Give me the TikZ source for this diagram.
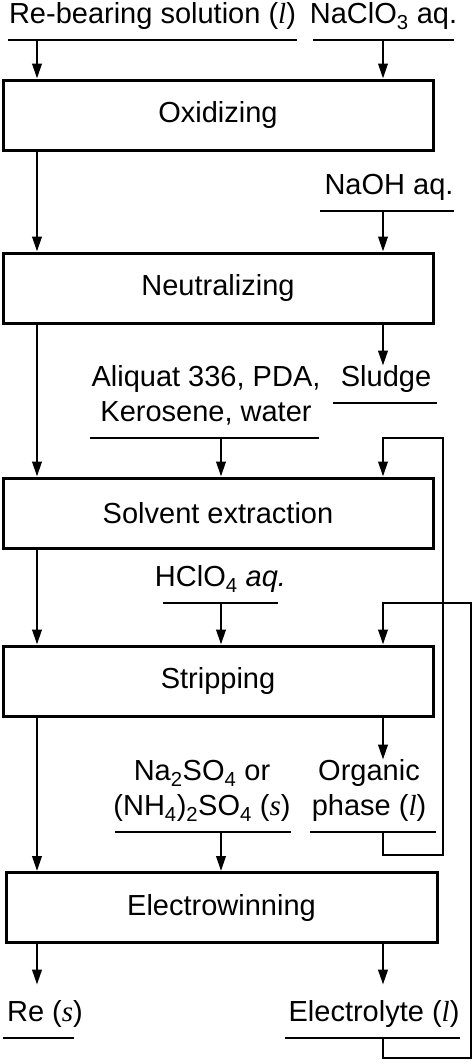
\documentclass[tikz,border=0pt]{standalone}
\usepackage{fontspec}
\setmainfont{Liberation Sans}
\newfontfamily\tnr{Liberation Serif}
\newcommand\phs[1]{{\tnr\itshape #1}}
\usetikzlibrary{arrows.meta,positioning}

\begin{document}
\begin{tikzpicture}[x=1pt,y=-1pt,
    font=\fontsize{29}{35}\selectfont,
    unit/.style={draw, line width=3pt, minimum width=430pt, minimum height=70pt, inner sep=0pt},
    feed/.style={anchor=south, inner sep=0pt, text depth=16pt, align=center},
    flow/.style={line width=2.3pt, -{Triangle[length=15pt,width=9.5pt]}},
    rule/.style={line width=2.5pt}]
\useasboundingbox (0,0) rectangle (474,1063);

% columns of the arrows
\coordinate (L) at (37,0);
\coordinate (M) at (221,0);
\coordinate (R) at (383,0);
\coordinate (loopA) at (443,438);
\coordinate (loopB) at (471,603);

% process steps
\node[unit] (ox)    at (218,115)   {Oxidizing};
\node[unit] (neut)  at (218,288)   {Neutralizing};
\node[unit] (sx)    at (218,513)   {Solvent extraction};
\node[unit] (strip) at (218,681)   {Stripping};
\node[unit, minimum width=431pt] (ew) at (221.5,907.5) {Electrowinning};

% feeds and products
\node[feed] (rebear) at (152.5,40)  {Re-bearing solution (\phs{l})};
\node[feed] (naclo)  at (383.5,40)  {NaClO\textsubscript{3} aq.};
\node[feed] (naoh)   at (389,211)   {NaOH aq.};
\node[feed] (aliq)   at (206,438)   {Aliquat 336, PDA,\\Kerosene, water};
\node[feed] (sludge) at (386,403)   {Sludge};
\node[feed] (hclo)   at (220.5,603) {HClO\textsubscript{4} \textit{aq.}};
\node[feed] (naso)   at (202,832)   {Na\textsubscript{2}SO\textsubscript{4} or\\(NH\textsubscript{4})\textsubscript{2}SO\textsubscript{4} (\phs{s})};
\node[feed] (org)    at (369,832)   {Organic\\phase (\phs{l})};
\node[feed] (re)     at (45,1038)   {Re (\phs{s})};
\node[feed] (elyte)  at (374,1038)  {Electrolyte (\phs{l})};

\foreach \n/\w/\s in {rebear/289/0, naclo/141/0, naoh/134/-2, aliq/229/-1.5, sludge/104/-1,
    hclo/115/0, naso/176/1, org/126/4, re/71/-6.5, elyte/175/-1.5}
    \draw[rule] ([xshift=\s-\w/2]\n.south) -- ([xshift=\s+\w/2]\n.south);

% main line
\draw[flow] (rebear.south -| L) -- (ox.north -| L);
\draw[flow] (naclo.south -| R) -- (ox.north -| R);
\draw[flow] (ox.south -| L) -- (neut.north -| L);
\draw[flow] (naoh.south -| R) -- (neut.north -| R);
\draw[flow] (neut.south -| L) -- (sx.north -| L);
\draw[flow] (neut.south -| R) -- (sludge.north -| R);
\draw[flow] (aliq.south -| M) -- (sx.north -| M);
\draw[flow] (sx.south -| L) -- (strip.north -| L);
\draw[flow] (hclo.south -| M) -- (strip.north -| M);
\draw[flow] (strip.south -| L) -- (ew.north -| L);
\draw[flow] (strip.south -| R) -- (org.north -| R);
\draw[flow] (naso.south -| M) -- (ew.north -| M);
\draw[flow, shorten >=16pt] (ew.south -| L) -- (re.north -| L);
\draw[flow, shorten >=16pt] (ew.south -| R) -- (elyte.north -| R);

% recycling
\draw[flow] (org.south -| R) -- ++(0,23) -| (loopA) -| (sx.north -| R);
\draw[flow] (elyte.south -| R) -- ++(0,20) -| (loopB) -| (strip.north -| R);

\end{tikzpicture}
\end{document}
